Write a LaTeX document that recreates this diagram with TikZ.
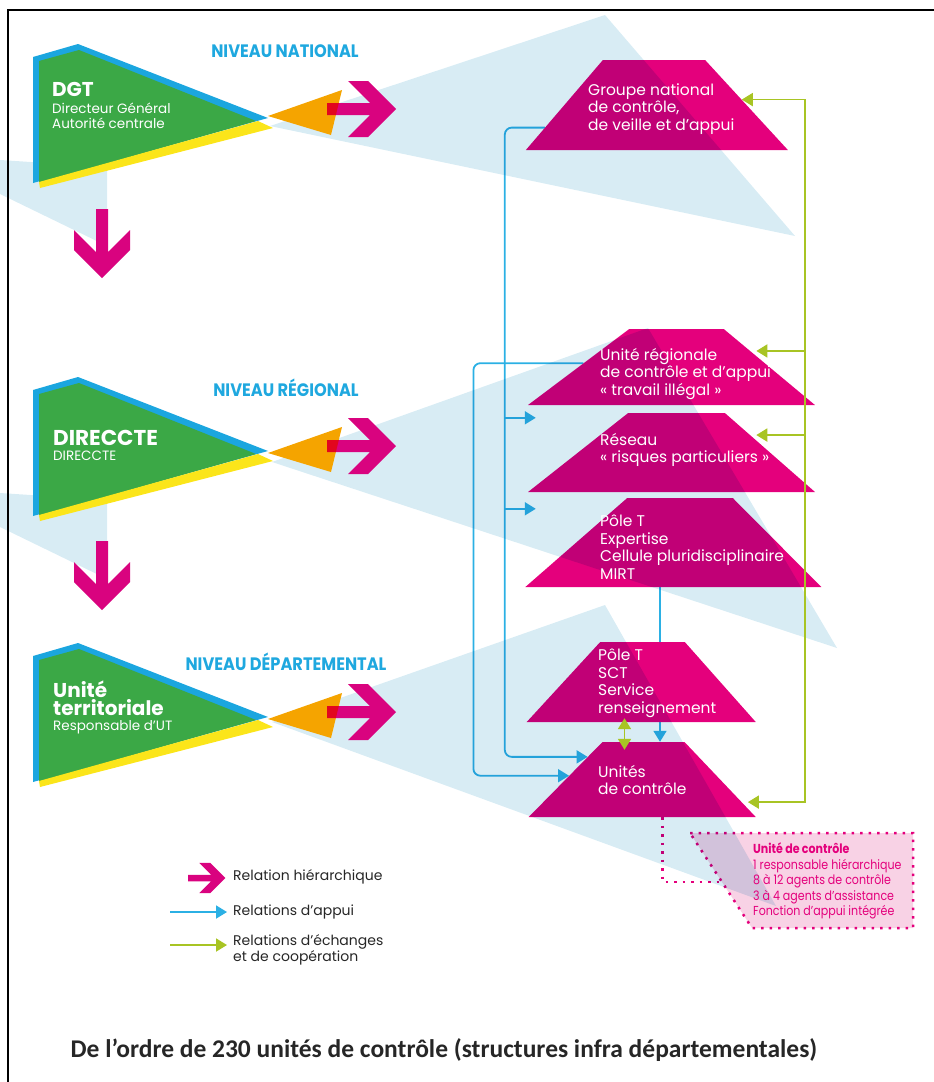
\documentclass[tikz,border=0pt]{standalone}
\usepackage{fontspec}
\setmainfont{Poppins}
\newfontfamily\condfont[FakeStretch=0.85]{Poppins}
\newfontfamily\lvlfont[FakeStretch=0.9]{Poppins}
\newfontfamily\capfont{Carlito}
\usepackage{tikz}
\usetikzlibrary{arrows.meta, shapes.geometric, calc, positioning, backgrounds}

\definecolor{tmag}{HTML}{E4007C}
\definecolor{hmag}{HTML}{D9037F}
\definecolor{dgreen}{HTML}{3BA846}
\definecolor{stripblue}{HTML}{1BA6DF}
\definecolor{stripyel}{HTML}{FBE51A}
\definecolor{orng}{HTML}{F5A400}
\definecolor{overred}{HTML}{E2061E}
\definecolor{fanblue}{HTML}{D8ECF4}
\definecolor{appuiblue}{HTML}{2BB0E4}
\definecolor{lime}{HTML}{A8C424}
\definecolor{callpink}{HTML}{F8D2E5}
\definecolor{lvlcyan}{HTML}{1FA8DF}

\tikzset{
    hierarrow/.pic={
        \fill[hmag] (0,-6) -- (43,-6) -- (21,-28) -- (41,-28) -- (69,0) -- (41,28) -- (21,28) -- (43,6) -- (0,6) -- cycle;
    }
}

\begin{document}
\begin{tikzpicture}[x=1pt, y=-1pt,
        >={Triangle[length=11pt,width=13pt]},
        trap/.style={trapezium, trapezium stretches=true, fill=tmag, inner sep=1pt},
        traptext/.style={anchor=west, align=left, text=white, inner sep=0pt, font=\fontsize{15.5}{17.5}\selectfont},
        appui/.style={draw=appuiblue, line width=1.8pt, ->},
        echange/.style={draw=lime, line width=1.8pt},
        dotline/.style={draw=tmag, line width=2.5pt, dash pattern=on 2.5pt off 6pt},
        lvl/.style={text=lvlcyan, inner sep=0pt, font=\lvlfont\bfseries\fontsize{18}{20}\selectfont},
        bigname/.style={anchor=west, align=left, text=white, inner sep=0pt, font=\bfseries\fontsize{20}{18}\selectfont},
        subname/.style={align=left, text=white, inner sep=0pt, font=\fontsize{13.5}{15}\selectfont},
        legtext/.style={anchor=west, align=left, text=black!85, inner sep=0pt, font=\fontsize{14}{16}\selectfont}]
    \useasboundingbox (0,0) rectangle (934,1082);

    \node (gnc) at (654,105) [trap, minimum width=262pt, minimum height=90pt, trapezium left angle=53, trapezium right angle=51] {};
    \node (urc) at (676.5,367) [trap, minimum width=287pt, minimum height=76pt, trapezium left angle=43, trapezium right angle=46] {};
    \node (rrp) at (676.5,452.5) [trap, minimum width=287pt, minimum height=79pt, trapezium left angle=44, trapezium right angle=47] {};
    \node (pte) at (680,542.5) [trap, minimum width=296pt, minimum height=89pt, trapezium left angle=46, trapezium right angle=50] {};
    \node (pts) at (642.5,682) [trap, minimum width=229pt, minimum height=80pt, trapezium left angle=49, trapezium right angle=50] {};
    \node (udc) at (643.5,779.5) [trap, minimum width=227pt, minimum height=75pt, trapezium left angle=48, trapezium right angle=49] {};

    \fill[callpink] (690,833) -- (913,833) -- (913,928) -- (752,928) -- cycle;
    \draw[dotline] (690,833) -- (913,833) -- (913,928) -- (752,928) -- cycle;
    \draw[dotline] ([xshift=19pt]udc.south) -- ++(0,65) -- ++(60,0);

    \begin{scope}[blend mode=multiply]
        \fill[fanblue] (270,126) -- (605,15) -- (795,236) -- cycle;
        \fill[fanblue] (272,462) -- (648,328) -- (837,648) -- cycle;
        \fill[fanblue] (272,722) -- (605,605) -- (776,906) -- cycle;
        \fill[fanblue] (0,160) -- (107,167) -- (107,246) -- (0,194) -- cycle;
        \fill[fanblue] (0,493) -- (107,500) -- (107,579) -- (0,527) -- cycle;
    \end{scope}

    \foreach \dy/\ay in {0/0, 333/337, 599/603} {
        \fill[stripblue] (33,57+\dy) -- (78,44+\dy) -- (268,118+\dy) -- (33,183+\dy) -- cycle;
        \fill[dgreen] (39,61+\dy) -- (79,50+\dy) -- (256,121+\dy) -- (39,183+\dy) -- cycle;
        \fill[stripyel] (39,182+\dy) -- (258,121+\dy) -- (273,128+\dy) -- (40,188+\dy) -- cycle;
        \fill[orng] (268,116+\ay) -- (342,90+\ay) -- (331,135+\ay) -- cycle;
        \pic at (327,109+\ay) {hierarrow};
        \begin{scope}
            \clip (268,116+\ay) -- (342,90+\ay) -- (331,135+\ay) -- cycle;
            \fill[overred] (327,103+\ay) rectangle (345,115+\ay);
        \end{scope}
    }
    \pic[rotate=-90] at (102,209) {hierarrow};
    \pic[rotate=-90] at (102,541) {hierarrow};

    \node (nat) at (285,51) [lvl] {NIVEAU NATIONAL};
    \node (reg) at (286,388) [lvl] {NIVEAU RÉGIONAL};
    \node (dep) at (286,662) [lvl] {NIVEAU DÉPARTEMENTAL};

    \node (dgt) at (52,89) [bigname] {DGT};
    \node (dgtsub) [subname, below right=6pt and 0pt of dgt.south west] {Directeur Général\\Autorité centrale};
    \node (dir) at (53,438) [bigname, font=\bfseries\fontsize{21.5}{18}\selectfont] {DIRECCTE};
    \node (dirsub) [subname, below right=5pt and 0pt of dir.south west] {DIRECCTE};
    \node (ut) at (53,698) [bigname] {Unité\\territoriale};
    \node (utsub) [subname, below right=5pt and 0pt of ut.south west] {Responsable d’UT};

    \node (gnctx) at (588,109) [traptext] {Groupe national\\de contrôle,\\de veille et d’appui};
    \node (urctx) at (600,374) [traptext] {Unité régionale\\de contrôle et d’appui\\«~travail illégal~»};
    \node (rrptx) at (600,450) [traptext] {Réseau\\«~risques particuliers~»};
    \node (ptetx) at (600,547) [traptext] {Pôle T\\Expertise\\Cellule pluridisciplinaire\\MIRT};
    \node (ptstx) at (598,683) [traptext] {Pôle T\\SCT\\Service\\renseignement};
    \node (udctx) at (598,780) [traptext] {Unités\\de contrôle};

    \node (uctx) at (753,881) [anchor=west, align=left, text=tmag, inner sep=0pt, font=\condfont\fontsize{13}{15.5}\selectfont]
        {\textbf{Unité de contrôle}\\1 responsable hiérarchique\\8 à 12 agents de contrôle\\3 à 4 agents d’assistance\\Fonction d’appui intégrée};

    \coordinate (gncL) at ($(gnc.top left corner)!0.75!(gnc.bottom left corner)$);
    \coordinate (urcL) at ($(urc.top left corner)!0.45!(urc.bottom left corner)$);
    \coordinate (udcL1) at ($(udc.top left corner)!0.2!(udc.bottom left corner)$);
    \coordinate (udcL2) at ($(udc.top left corner)!0.45!(udc.bottom left corner)$);
    \coordinate (cbus) at ($(gncL)+(-40,0)$);
    \coordinate (rrpin) at ($(rrp.top left corner)+(0,5)$);
    \coordinate (ptein) at ($(pte.top left corner)+(0,11)$);
    \coordinate (ptebot) at ([xshift=-20pt]pte.south);
    \begin{scope}[on background layer]
        \draw[appui, rounded corners=7pt] (gncL) -- (cbus) |- (udcL1);
        \draw[appui, rounded corners=7pt] (urcL) -- ++(-110,0) |- (udcL2);
        \draw[appui] (cbus |- rrpin) -- ++(31,0);
        \draw[appui] (cbus |- ptein) -- ++(31,0);
        \draw[appui] (ptebot) -- (ptebot |- udc.north);
    \end{scope}

    \coordinate (gncR) at ($(gnc.top right corner)!0.44!(gnc.bottom right corner)$);
    \coordinate (urcR) at ($(urc.top right corner)!0.29!(urc.bottom right corner)$);
    \coordinate (rrpR) at ($(rrp.top right corner)!0.28!(rrp.bottom right corner)$);
    \coordinate (udcR) at ($(udc.top right corner)!0.8!(udc.bottom right corner)$);
    \coordinate (gbus) at ($(gncR)+(63,0)$);
    \coordinate (ptsbot) at ([xshift=-18pt]pts.south);
    \draw[echange, <->, shorten >=6pt] (gncR) -- (gbus) |- (udcR);
    \draw[echange, ->, shorten >=6pt] (gbus |- urcR) -- (urcR);
    \draw[echange, ->, shorten >=6pt] (gbus |- rrpR) -- (rrpR);
    \draw[echange, <->, shorten <=-4pt, shorten >=-8pt] (ptsbot) -- (ptsbot |- udc.north);

    \pic[scale=0.54] at (188,878) {hierarrow};
    \node (lghier) at (233,877) [legtext] {Relation hiérarchique};
    \node (lgapp) at (233,912) [legtext] {Relations d’appui};
    \node (lgech) at (233,950) [legtext] {Relations d’échanges\\et de coopération};
    \draw[appui] ([xshift=-63pt]lgapp.west) -- ([xshift=-6pt]lgapp.west);
    \draw[echange, ->] ([xshift=-63pt, yshift=5pt]lgech.west) -- ([xshift=-6pt, yshift=5pt]lgech.west);

    \node (cap) at (444,1050) [text=black!85, font=\capfont\bfseries\fontsize{25.5}{28}\selectfont] {De l’ordre de 230 unités de contrôle (structures infra départementales)};

    \draw[line width=2pt] (8,1082) -- (8,10) -- (934,10);
\end{tikzpicture}
\end{document}
